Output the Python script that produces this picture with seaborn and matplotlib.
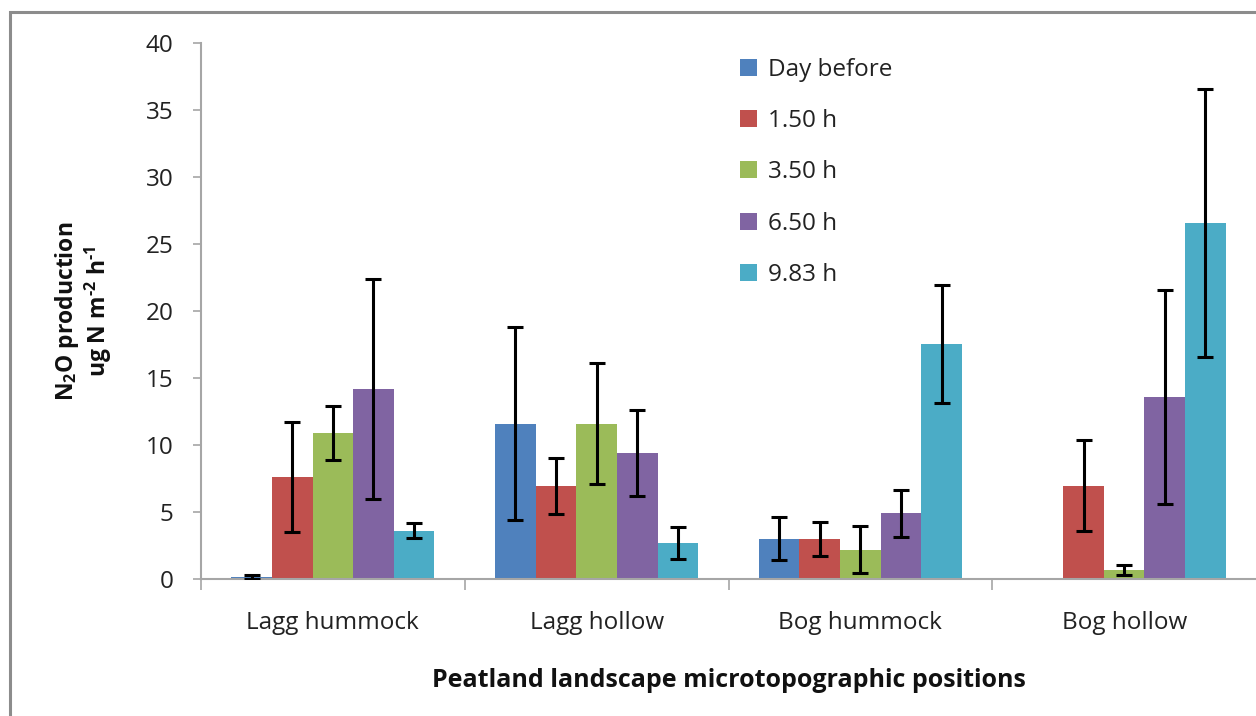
import numpy as np
import pandas as pd
import matplotlib
matplotlib.use("Agg")
import matplotlib.pyplot as plt
from matplotlib.patches import Rectangle
import seaborn as sns

positions = ["Lagg hummock", "Lagg hollow", "Bog hummock", "Bog hollow"]
times = ["Day before", "1.50 h", "3.50 h", "6.50 h", "9.83 h"]

day_before = [0.15, 11.6, 3.0, 0.0]
h1_50 = [7.6, 6.95, 3.0, 6.95]
h3_50 = [10.9, 11.6, 2.2, 0.67]
h6_50 = [14.2, 9.4, 4.9, 13.6]
h9_83 = [3.6, 2.7, 17.55, 26.6]

err_day_before = [0.15, 7.2, 1.6, np.nan]
err_1_50 = [4.1, 2.1, 1.27, 3.4]
err_3_50 = [2.0, 4.5, 1.75, 0.37]
err_6_50 = [8.2, 3.2, 1.77, 8.0]
err_9_83 = [0.57, 1.2, 4.4, 10.0]

colors = ["#4F81BD", "#C0504D", "#9BBB59", "#8064A2", "#4BACC6"]

values = [day_before, h1_50, h3_50, h6_50, h9_83]
errors = [err_day_before, err_1_50, err_3_50, err_6_50, err_9_83]

rows = []
for t, vals in zip(times, values):
    for p, v in zip(positions, vals):
        rows.append({"position": p, "time": t, "value": v})
df = pd.DataFrame(rows)

sns.set_style("white")
plt.rcParams["font.family"] = ["Open Sans", "DejaVu Sans"]
plt.rcParams["mathtext.fontset"] = "custom"
plt.rcParams["mathtext.rm"] = "Open Sans:bold"
plt.rcParams["mathtext.bf"] = "Open Sans:bold"
plt.rcParams["mathtext.default"] = "bf"

fig = plt.figure(figsize=(12.56, 7.16), dpi=100)
ax = fig.add_axes([201 / 1256, 1 - 579 / 716, 1055 / 1256, 536 / 716])

sns.barplot(data=df, x="position", y="value", hue="time", hue_order=times,
            order=positions, palette=colors, saturation=1, width=0.77,
            errorbar=None, linewidth=0, ax=ax)

bar_containers = list(ax.containers)
for i, container in enumerate(bar_containers):
    for bar in container:
        xc = bar.get_x() + bar.get_width() / 2
        j = int(round(xc))
        e = errors[i][j]
        if np.isnan(e):
            continue
        ax.errorbar(xc, bar.get_height(), yerr=e, fmt="none", ecolor="black",
                    elinewidth=2.2, capsize=6, capthick=2.2, zorder=5)

ax.set_xlim(-0.5, 3.5)
ax.set_ylim(0, 40)
ax.set_yticks(np.arange(0, 41, 5))
ax.set_xticks(range(len(positions)))
ax.set_xticklabels(positions)
ax.set_xticks([-0.5, 0.5, 1.5, 2.5], minor=True)

for s in ["top", "right"]:
    ax.spines[s].set_visible(False)
for s in ["left", "bottom"]:
    ax.spines[s].set_color("#A6A6A6")
    ax.spines[s].set_linewidth(1.5)

ax.tick_params(axis="y", which="major", direction="out", length=6, width=1.2,
               color="#A6A6A6", pad=14, labelsize=17.5, labelcolor="#222222", left=True)
ax.tick_params(axis="x", which="major", length=0, pad=23, labelsize=17.5,
               labelcolor="#222222", bottom=True)
ax.tick_params(axis="x", which="minor", direction="out", length=8, width=1.2,
               color="#A6A6A6", bottom=True)

ax.set_xlabel("Peatland landscape microtopographic positions", fontsize=18,
              fontweight="bold", labelpad=24, color="#111111")
ax.set_ylabel("N$_2$O production\nug N m$^{\\text{-}2}$ h$^{\\text{-}1}$", fontsize=16.5,
              fontweight="bold", color="#111111", linespacing=1.1)
ax.yaxis.set_label_coords(-0.082, 0.5)

ax.legend(loc="upper left", bbox_to_anchor=(0.511, 0.972), frameon=False,
          fontsize=17.5, handlelength=0.7, handleheight=0.7,
          handletextpad=0.45, labelspacing=1.12, borderpad=0, borderaxespad=0,
          labelcolor="#222222")

fig.patches.append(Rectangle((10 / 1256, -0.05), 1.1, 1 - 12 / 716 + 0.05,
                             transform=fig.transFigure, fill=False,
                             edgecolor="#8C8C8C", linewidth=2.2, zorder=0))

fig.savefig("out.png", dpi=100)
